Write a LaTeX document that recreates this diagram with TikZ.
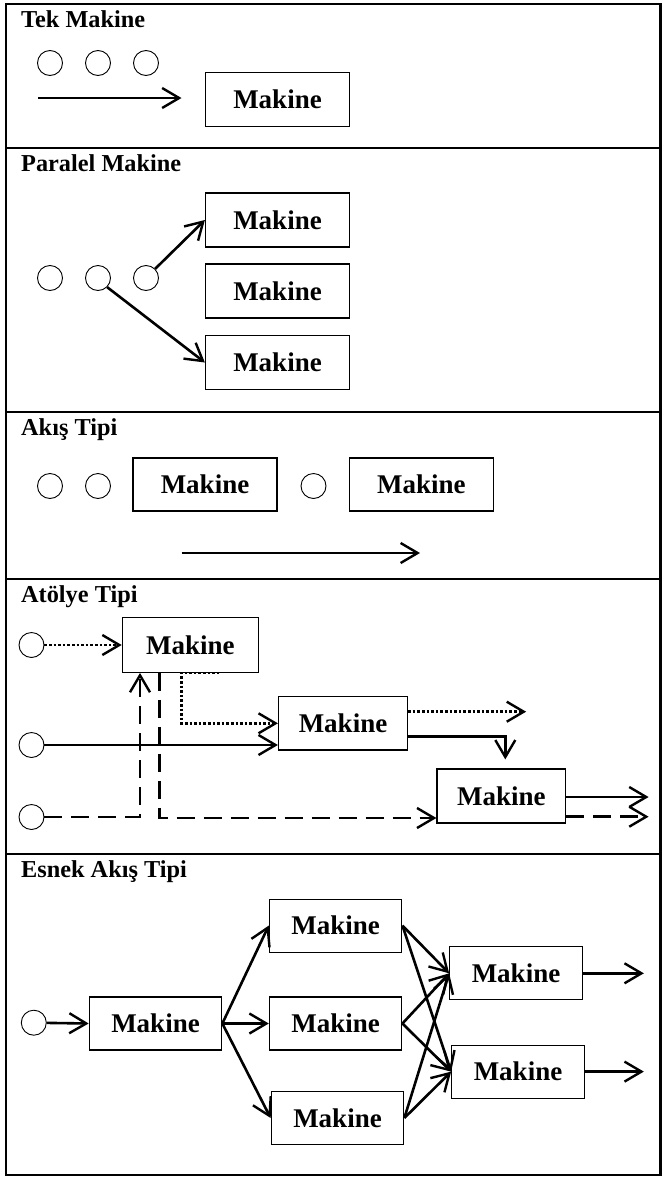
\documentclass[tikz,border=0pt]{standalone}
\usepackage{fontspec}
\setmainfont{Liberation Serif}
\usetikzlibrary{arrows.meta}

\begin{document}
\begin{tikzpicture}[
    x=1pt, y=-1pt,
    frame/.style={line width=2.4pt},
    title/.style={anchor=base west, inner sep=0pt, font=\fontsize{24.3}{28}\selectfont\bfseries},
    makine/.style={draw, line width=1.2pt, minimum width=144pt, minimum height=54pt, inner sep=0pt,
        font=\fontsize{27}{30}\selectfont\bfseries},
    part/.style={draw, circle, line width=0.9pt, minimum size=25pt, inner sep=0pt},
    flow/.style={line width=2.6pt, -{Straight Barb[length=17pt,width=20pt,line width=2.4pt]}},
    dots/.style={flow, dotted},
    dashln/.style={flow, dash pattern=on 18pt off 9pt},
]
\useasboundingbox (0,0) rectangle (662,1178);
\draw[frame] (6,4) rectangle (660.5,1175);
\foreach \y in {148,412,579,854}
    \draw[frame] (6,\y) -- (660.5,\y);

% Tek Makine
\node[title] (t1) at (21,27) {Tek Makine};
\foreach \x [count=\i] in {50,98,146}
    \node[part] (a\i) at (\x,63) {};
\node[makine] (m1) at (277.5,99.5) {Makine};
\coordinate (s1) at (38,98);
\coordinate (e1) at (181.5,98);
\draw[flow] (s1) -- (e1);

% Paralel Makine
\node[title] (t2) at (21,171.5) {Paralel Makine};
\foreach \x [count=\i] in {50,98,146}
    \node[part] (b\i) at (\x,278) {};
\node[makine] (p1) at (277.5,220) {Makine};
\node[makine] (p2) at (277.5,291) {Makine};
\node[makine] (p3) at (277.5,362.5) {Makine};
\draw[flow] (b3.north east) -- (p1.west);
\draw[flow] (b2.south east) -- (p3.west);

% Akis Tipi
\node[title] (t3) at (21,435) {Akış Tipi};
\node[part] (c1) at (50,486) {};
\node[part] (c2) at (98,486) {};
\node[part] (c3) at (313.5,486) {};
\node[makine, minimum height=53pt] (f1) at (205,484.5) {Makine};
\node[makine, minimum height=53pt] (f2) at (421.3,484.5) {Makine};
\coordinate (s3) at (181.5,553);
\coordinate (e3) at (420,553);
\draw[flow] (s3) -- (e3);

% Atolye Tipi
\node[title] (t4) at (21,602) {Atölye Tipi};
\node[part] (d1) at (31.5,645) {};
\node[part] (d2) at (31.5,745) {};
\node[part] (d3) at (31.5,817) {};
\node[makine, minimum width=136pt, minimum height=54.6pt] (w1) at (190.3,645) {Makine};
\node[makine, minimum width=129pt, minimum height=53.3pt] (w2) at (343,723.3) {Makine};
\node[makine, minimum width=128.6pt] (w3) at (501.3,796) {Makine};
\draw[dots] (d1) -- (w1.west);
\draw[dots] ([xshift=29pt]w1.south) -- ([xshift=-9pt]w1.south) |- (w2.west);
\draw[dots] ([yshift=11.6pt]w2.east) -- ++(118,0);
\draw[flow] (d2) -- (d2 -| w2.west);
\draw[flow] ([yshift=-13.4pt]w2.east) -| ([xshift=4pt,yshift=9pt]w3.north);
\draw[dashln] (d3) -| ([xshift=-50.3pt]w1.south);
\draw[dashln] ([xshift=-30.7pt]w1.south) |- ([yshift=-22pt]w3.west);
\draw[flow] ([yshift=-1pt]w3.east) -- ++(82.4,0);
\draw[dashln] ([yshift=-20.7pt]w3.east) -- ++(82.4,0);

% Esnek Akis Tipi
\node[title] (t5) at (21,877) {Esnek Akış Tipi};
\node[part] (e0) at (33.8,1022.7) {};
\begin{scope}[every node/.style={makine, minimum width=132.5pt, minimum height=53pt}]
\node (g1) at (155.5,1023.5) {Makine};
\node (h1) at (335.6,925.6) {Makine};
\node (h2) at (335.6,1023.5) {Makine};
\node (h3) at (337.5,1118) {Makine};
\node (k1) at (516,973.3) {Makine};
\node (k2) at (518,1071.6) {Makine};
\end{scope}
\draw[flow] (e0) -- (g1.west);
\foreach \a/\b in {g1/h1,g1/h2,g1/h3,h1/k1,h1/k2,h2/k1,h2/k2,h3/k1,h3/k2}
    \draw[flow] (\a.east) -- (\b.west);
\draw[flow] (k1.east) -- ++(61,0);
\draw[flow] (k2.east) -- ++(59,0);
\end{tikzpicture}
\end{document}
